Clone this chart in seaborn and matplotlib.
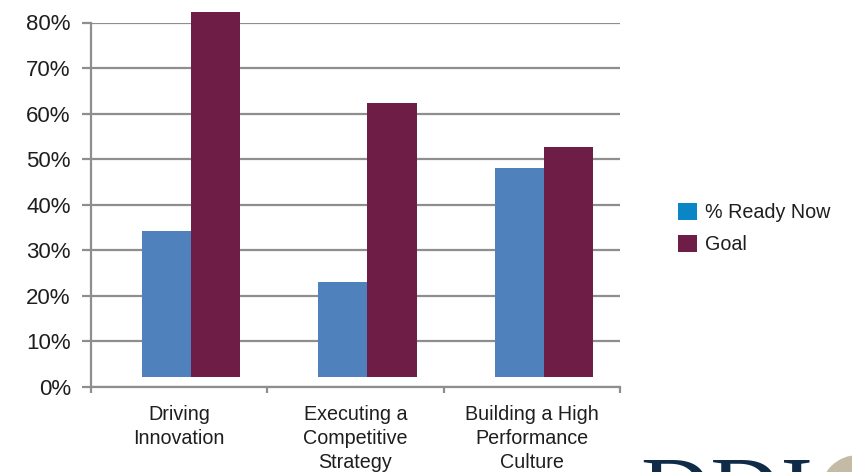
import matplotlib
matplotlib.use("Agg")
import matplotlib.pyplot as plt
import matplotlib.transforms as mtransforms
from matplotlib.patches import Patch, Circle
import numpy as np
import pandas as pd
import seaborn as sns

# Leadership capability readiness vs. goal (percent)
categories = ["Driving\nInnovation",
              "Executing a\nCompetitive\nStrategy",
              "Building a High\nPerformance\nCulture"]
ready_now = [32.0, 20.9, 45.8]
goal = [80.2, 60.1, 50.4]
series_names = ["% Ready Now", "Goal"]
y_ticks = [0, 10, 20, 30, 40, 50, 60, 70, 80]
y_tick_labels = [f"{v}%" for v in y_ticks]

df = pd.DataFrame({
    "category": categories * 2,
    "value": ready_now + goal,
    "series": [series_names[0]] * 3 + [series_names[1]] * 3,
})

bar_colors = {"% Ready Now": "#4F81BD", "Goal": "#6E1D46"}
legend_colors = {"% Ready Now": "#0A86C6", "Goal": "#6E1D46"}
grid_gray = "#8E8E8E"
text_color = "#1E1E1E"

sns.set_theme(style="white")
plt.rcParams["font.family"] = ["Liberation Sans", "DejaVu Sans"]

fig = plt.figure(figsize=(8.53, 4.72), dpi=100)
ax = fig.add_axes([91 / 853, 85 / 472, 529 / 853, 364.5 / 472])

# bars sit on a small baseline above the 0% line
base = 2.2
sns.barplot(data=df, x="category", y="value", hue="series",
            palette=bar_colors, saturation=1, width=0.556, order=categories,
            hue_order=series_names, errorbar=None, legend=False,
            bottom=base, clip_on=False, linewidth=0, ax=ax, zorder=3)

# nudge the bar groups slightly right of their category centres
for p in ax.patches:
    p.set_x(p.get_x() + 0.068)

ax.set_xlim(-0.5, 2.5)
ax.set_ylim(0, 80)
ax.set_yticks(y_ticks)
ax.set_yticklabels(y_tick_labels)
ax.set_xlabel("")
ax.set_ylabel("")

ax.yaxis.grid(True, color=grid_gray, linewidth=1.6, zorder=0)
ax.xaxis.grid(False)
ax.set_axisbelow(True)

for side in ["top", "right"]:
    ax.spines[side].set_visible(False)
for side in ["left", "bottom"]:
    ax.spines[side].set_color(grid_gray)
    ax.spines[side].set_linewidth(1.6)
    ax.spines[side].set_zorder(1)

ax.tick_params(axis="y", which="major", direction="out", length=6.5,
               width=1.6, color=grid_gray, labelsize=16, pad=8,
               labelcolor=text_color, left=True)
ax.tick_params(axis="x", which="major", length=0, labelsize=14.2,
               pad=13, labelcolor=text_color)
ax.set_xticks([-0.5, 0.5, 1.5, 2.5], minor=True)
ax.tick_params(axis="x", which="minor", direction="out", length=4.5,
               width=1.6, color=grid_gray, bottom=True)
for lbl in ax.get_xticklabels():
    lbl.set_linespacing(1.32)
    lbl.set_ha("center")

handles = [Patch(facecolor=legend_colors[n], edgecolor="none", label=n)
           for n in series_names]
fig.legend(handles=handles, loc="center left",
           bbox_to_anchor=(678 / 853, 1 - 228.5 / 472),
           frameon=False, fontsize=14.2, handlelength=0.95,
           handleheight=0.95, handletextpad=0.4, labelspacing=0.62,
           borderpad=0, borderaxespad=0, labelcolor=text_color)

# company logo, partly below the bottom edge
fig.text(640 / 853, (472 - 524) / 472, "DDI", fontsize=70,
         family=["Liberation Serif", "DejaVu Serif"], color="#0F2B48",
         ha="left", va="baseline")
fig.add_artist(Circle((858, -21), 38, transform=mtransforms.IdentityTransform(),
                      facecolor="#C4BBA6", edgecolor="none"))

fig.savefig("out.png", dpi=100)
